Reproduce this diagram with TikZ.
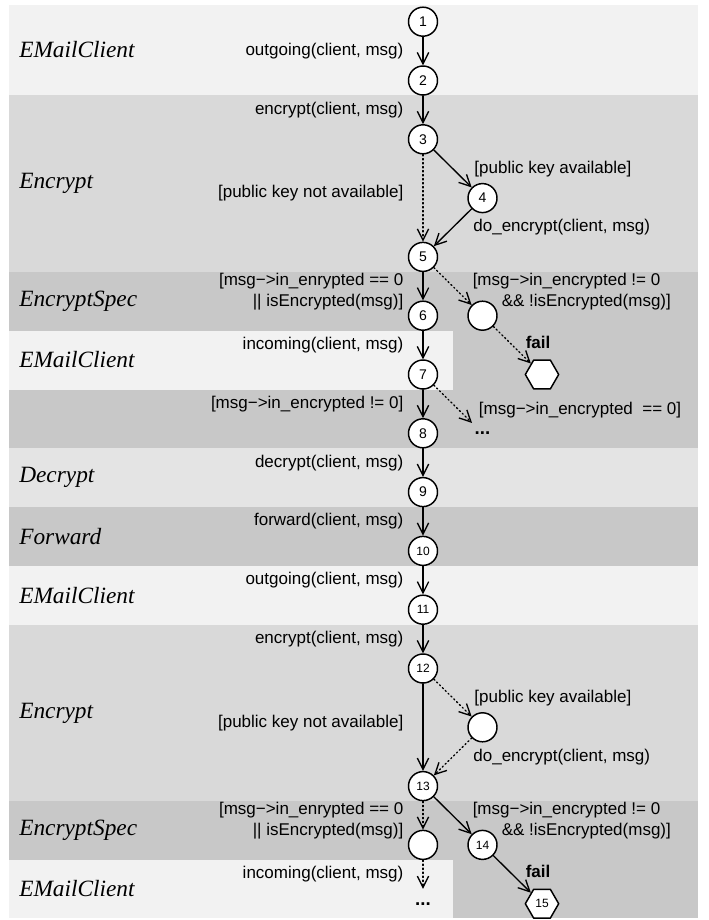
\documentclass[tikz,border=0pt]{standalone}
\usepackage{fontspec}
\setmainfont{Liberation Sans}
\newfontfamily\lanefont{Liberation Serif}
\usetikzlibrary{arrows.meta,shapes.geometric}

\definecolor{paleband}{HTML}{F2F2F2}
\definecolor{midband}{HTML}{D9D9D9}
\definecolor{darkband}{HTML}{C8C8C8}
\definecolor{softband}{HTML}{E4E4E4}
\newcommand\guardsize{\fontsize{12.75}{15.5}\selectfont}

\tikzset{
  state/.style={circle, draw, fill=white, line width=1.1pt, minimum size=21.75pt, inner sep=0pt, font=\fontsize{10.5}{11}\selectfont},
  bigstate/.style={state, font=\fontsize{9}{10}\selectfont},
  failstate/.style={regular polygon, regular polygon sides=6, draw, fill=white, line width=1.1pt, minimum size=25pt, inner sep=0pt, font=\fontsize{9}{10}\selectfont},
  moredots/.style={circle, minimum size=21.75pt, inner sep=0pt, font=\fontsize{14}{15}\selectfont\bfseries},
  lane/.style={anchor=west, inner sep=0pt, font=\lanefont\itshape\fontsize{17.5}{20}\selectfont},
  guard/.style={inner sep=0pt, font=\guardsize},
  trans/.style={->, line width=1pt},
  maybe/.style={->, line width=1pt, dotted},
}

\begin{document}
\begin{tikzpicture}[x=0.75pt, y=-0.75pt, >={Straight Barb[length=8.5pt,width=8.5pt]}, line join=round, line cap=round]
\useasboundingbox (0,0) rectangle (708,920);
% lanes
\fill[paleband] (9,5) rectangle (698,95.5);
\fill[midband] (9,95.5) rectangle (698,272);
\fill[darkband] (9,272) rectangle (698,448);
\fill[paleband] (9,330.7) rectangle (453,389.5);
\fill[softband] (9,448) rectangle (698,507);
\fill[darkband] (9,507) rectangle (698,566);
\fill[paleband] (9,566) rectangle (698,624.7);
\fill[midband] (9,624.7) rectangle (698,801);
\fill[darkband] (9,801) rectangle (698,918);
\fill[paleband] (9,860) rectangle (453,918);

\node[lane] (laneA) at (19,50) {EMailClient};
\node[lane] (laneB) at (19,183.5) {Encrypt};
\node[lane] (laneC) at (19,301) {EncryptSpec};
\node[lane] (laneD) at (19,360) {EMailClient};
\node[lane] (laneE) at (19,477.5) {Decrypt};
\node[lane] (laneF) at (19,536.5) {Forward};
\node[lane] (laneG) at (19,595.5) {EMailClient};
\node[lane] (laneH) at (19,713) {Encrypt};
\node[lane] (laneI) at (19,830.5) {EncryptSpec};
\node[lane] (laneJ) at (19,889) {EMailClient};

% states
\node[state] (s1) at (423,21.7) {1};
\node[state] (s2) at (423,80.5) {2};
\node[state] (s3) at (423,139.3) {3};
\node[state] (s4) at (482.5,198.1) {4};
\node[state] (s5) at (423,256.9) {5};
\node[state] (s6) at (423,315.7) {6};
\node[state] (ca) at (482.5,315.7) {};
\node[failstate] (fa) at (542,374.5) {};
\node[state] (s7) at (423,374.5) {7};
\node[state] (s8) at (423,433.3) {8};
\node[moredots] (da) at (482.5,433.3) {...};
\node[state] (s9) at (423,492.1) {9};
\node[bigstate] (s10) at (423,550.9) {10};
\node[bigstate] (s11) at (423,609.7) {11};
\node[bigstate] (s12) at (423,668.5) {12};
\node[state] (cb) at (482.5,727.3) {};
\node[bigstate] (s13) at (423,786.1) {13};
\node[state] (cc) at (423,844.9) {};
\node[bigstate] (s14) at (482.5,844.9) {14};
\node[moredots] (db) at (423,903.7) {...};
\node[failstate] (s15) at (542,903.7) {15};

% first round
\draw[trans] (s1) -- node[guard,left=14.25pt] {outgoing(client, msg)} (s2);
\draw[trans] (s2) -- node[guard,left=14.25pt] {encrypt(client, msg)} (s3);
\draw[trans] (s3) -- node[guard,right=15.75pt] {[public key available]} (s4);
\draw[trans] (s4) -- node[guard,right=15pt] {do\_encrypt(client, msg)} (s5);
\draw[maybe] (s3) -- node[guard,left=14.25pt,yshift=4pt] {[public key not available]} (s5);
\draw[trans] (s5) -- node[guard,left=14.25pt,yshift=-4pt,align=right] {[msg−>in\_enrypted == 0\\|| isEncrypted(msg)]} (s6);
\draw[maybe] (s5) -- node[guard,right=14.5pt,yshift=-4pt,align=left] {[msg−>in\_encrypted != 0\\\hspace*{21.75pt}\&\& !isEncrypted(msg)]} (ca);
\draw[maybe] (ca) -- node[guard,font=\guardsize\bfseries,right=9.75pt,yshift=2pt] {fail} (fa);
\draw[trans] (s6) -- node[guard,left=14.25pt] {incoming(client, msg)} (s7);
\draw[trans] (s7) -- node[guard,left=14.25pt] {[msg−>in\_encrypted != 0]} (s8);
\draw[maybe] (s7) -- node[guard,right=19pt,yshift=-4.5pt] {[msg−>in\_encrypted \ == 0]} (da);
\draw[trans] (s8) -- node[guard,left=14.25pt] {decrypt(client, msg)} (s9);
\draw[trans] (s9) -- node[guard,left=14.25pt] {forward(client, msg)} (s10);
\draw[trans] (s10) -- node[guard,left=14.25pt] {outgoing(client, msg)} (s11);

% second round
\draw[trans] (s11) -- node[guard,left=14.25pt] {encrypt(client, msg)} (s12);
\draw[maybe] (s12) -- node[guard,right=15.75pt] {[public key available]} (cb);
\draw[maybe] (cb) -- node[guard,right=15pt] {do\_encrypt(client, msg)} (s13);
\draw[trans] (s12) -- node[guard,left=14.25pt,yshift=3pt] {[public key not available]} (s13);
\draw[maybe] (s13) -- node[guard,left=14.25pt,yshift=-4pt,align=right] {[msg−>in\_enrypted == 0\\|| isEncrypted(msg)]} (cc);
\draw[trans] (s13) -- node[guard,right=14.5pt,yshift=-4pt,align=left] {[msg−>in\_encrypted != 0\\\hspace*{21.75pt}\&\& !isEncrypted(msg)]} (s14);
\draw[trans] (s14) -- node[guard,font=\guardsize\bfseries,right=9.75pt,yshift=2pt] {fail} (s15);
\draw[maybe] (cc) -- node[guard,left=14.25pt] {incoming(client, msg)} (db);
\end{tikzpicture}
\end{document}
